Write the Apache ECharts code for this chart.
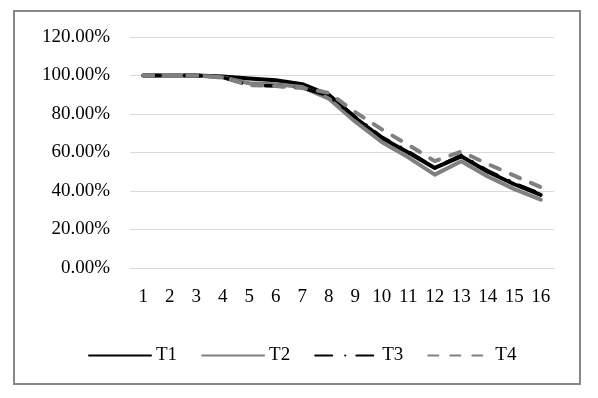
<!DOCTYPE html>
<html>
<head>
<meta charset="utf-8">
<script src="https://cdn.jsdelivr.net/npm/echarts@6/dist/echarts.min.js"></script>
<style>
  html, body { margin: 0; padding: 0; background: #fff; }
  #main { width: 598px; height: 398px; }
</style>
</head>
<body>
<div id="main"></div>
<script>
// 数据（各系列百分比值）
var categories = ['1','2','3','4','5','6','7','8','9','10','11','12','13','14','15','16'];
var t1 = [100, 100, 100, 99.5, 98.5, 97.5, 95.5, 90, 78, 67.5, 60, 52, 58, 50, 43.5, 38];
var t2 = [100, 100, 100, 99, 96, 95.5, 94, 88, 76, 65.5, 57.5, 48.5, 55.5, 47.5, 41, 35.5];
var t3 = [100, 100, 100, 99, 95, 94.5, 93.5, 89.5, 78.5, 68, 60.5, 52, 58.5, 50.5, 44, 38.5];
var t4 = [100, 100, 100, 99, 95, 94.5, 93.5, 91, 81, 72, 64, 55.5, 60.5, 54, 48, 42];

var chart = echarts.init(document.getElementById('main'));
var font = 'Liberation Serif';

function line(name, data, color, width, type) {
    return {
        type: 'line', name: name, data: data,
        symbol: 'none', smooth: false,
        lineStyle: { color: color, width: width, type: type, cap: 'round', join: 'round' },
        itemStyle: { color: color }
    };
}

var option = {
    animation: false,
    backgroundColor: '#fff',
    textStyle: { fontFamily: font, color: '#000' },
    graphic: [{
        type: 'rect',
        shape: { x: 14, y: 11, width: 566, height: 373 },
        style: { fill: 'none', stroke: '#878787', lineWidth: 2 }
    }],
    grid: { left: 130, right: 44, top: 37, bottom: 130 },
    legend: {
        data: ['T1', 'T2', 'T3', 'T4'],
        left: 83, top: 341,
        itemWidth: 62, itemHeight: 14, itemGap: 24,
        itemStyle: { opacity: 0 },
        textStyle: { fontFamily: font, fontSize: 19, color: '#000' }
    },
    xAxis: {
        type: 'category',
        data: categories,
        boundaryGap: true,
        axisLine: { lineStyle: { color: '#d9d9d9' } },
        axisTick: { show: false },
        axisLabel: { fontFamily: font, fontSize: 19, color: '#000', margin: 20, interval: 0 }
    },
    yAxis: {
        type: 'value',
        min: 0, max: 120, interval: 20,
        axisLine: { show: false },
        axisTick: { show: false },
        splitLine: { lineStyle: { color: '#d9d9d9', width: 1 } },
        axisLabel: {
            fontFamily: font, fontSize: 19, color: '#000', margin: 20,
            formatter: function (v) { return v.toFixed(2) + '%'; }
        }
    },
    series: [
        line('T1', t1, '#000000', 4, 'solid'),
        line('T2', t2, '#808080', 4, 'solid'),
        line('T3', t3, '#000000', 3.5, [17, 13, 0.1, 11]),
        line('T4', t4, '#808080', 4, [10, 12])
    ]
};

chart.setOption(option);
</script>
</body>
</html>
